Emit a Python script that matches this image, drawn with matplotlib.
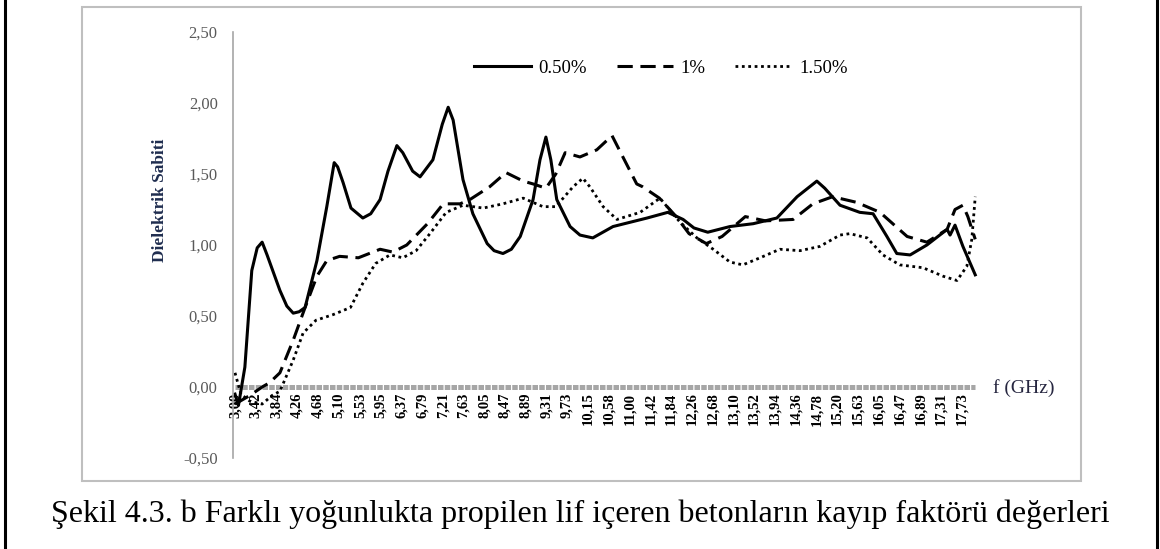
import numpy as np
import matplotlib.pyplot as plt
from matplotlib.lines import Line2D
from matplotlib.patches import Rectangle

# category labels shown on the x axis (GHz)
tick_freqs = [3.00, 3.42, 3.84, 4.26, 4.68, 5.10, 5.53, 5.95, 6.37, 6.79, 7.21, 7.63,
              8.05, 8.47, 8.89, 9.31, 9.73, 10.15, 10.58, 11.00, 11.42, 11.84, 12.26,
              12.68, 13.10, 13.52, 13.94, 14.36, 14.78, 15.20, 15.63, 16.05, 16.47,
              16.89, 17.31, 17.73]

# 0.50 %
f_050 = [3.00, 3.07, 3.20, 3.34, 3.45, 3.55, 3.65, 3.91, 4.05, 4.18, 4.30, 4.42, 4.66,
         4.86, 5.01, 5.08, 5.19, 5.35, 5.59, 5.75, 5.94, 6.10, 6.28, 6.40, 6.60, 6.75,
         7.01, 7.20, 7.32, 7.42, 7.62, 7.82, 8.11, 8.25, 8.43, 8.60, 8.78, 9.04, 9.18,
         9.30, 9.40, 9.52, 9.79, 9.99, 10.25, 10.66, 11.35, 11.77, 12.08, 12.30, 12.58,
         13.03, 13.50, 13.98, 14.39, 14.79, 14.95, 15.26, 15.66, 15.93, 16.21, 16.41,
         16.68, 17.02, 17.43, 17.49, 17.59, 17.75, 18.00]
v_050 = [-0.05, -0.13, 0.14, 0.82, 0.98, 1.02, 0.93, 0.68, 0.57, 0.52, 0.53, 0.56, 0.89,
         1.27, 1.58, 1.55, 1.44, 1.26, 1.19, 1.22, 1.32, 1.52, 1.70, 1.65, 1.52, 1.48,
         1.60, 1.85, 1.97, 1.88, 1.46, 1.22, 1.01, 0.96, 0.94, 0.97, 1.06, 1.32, 1.60,
         1.76, 1.60, 1.32, 1.13, 1.07, 1.05, 1.13, 1.19, 1.23, 1.18, 1.12, 1.09,
         1.13, 1.15, 1.19, 1.34, 1.45, 1.40, 1.28, 1.23, 1.22, 1.06, 0.94,
         0.93, 1.00, 1.11, 1.07, 1.14, 0.99, 0.79]

# 1 %
f_1 = [3.00, 3.30, 3.55, 3.70, 3.91, 4.18, 4.42, 4.66, 4.86, 5.12, 5.50, 5.94, 6.20, 6.48,
       6.90, 7.22, 7.56, 7.76, 8.16, 8.49, 8.84, 9.04, 9.30, 9.50, 9.69, 9.99, 10.33,
       10.64, 10.86, 11.14, 11.26, 11.60, 11.94, 12.20, 12.55, 12.87, 13.34, 13.75,
       14.31, 14.71, 15.11, 15.60, 16.07, 16.62, 17.02, 17.43, 17.59, 17.75, 17.85, 18.00]
v_1 = [-0.12, -0.06, 0.00, 0.03, 0.10, 0.33, 0.56, 0.78, 0.89, 0.92, 0.91, 0.97, 0.95, 1.00,
       1.15, 1.29, 1.29, 1.32, 1.41, 1.51, 1.45, 1.43, 1.40, 1.50, 1.65, 1.62, 1.67,
       1.77, 1.62, 1.43, 1.41, 1.33, 1.20, 1.08, 1.01, 1.06, 1.20, 1.17,
       1.18, 1.29, 1.34, 1.30, 1.23, 1.06, 1.02, 1.11, 1.25, 1.28, 1.20, 1.04]

# 1.50 %
f_150 = [3.00, 3.12, 3.30, 3.55, 3.75, 3.91, 4.18, 4.38, 4.64, 4.99, 5.34, 5.59, 5.85, 6.14,
         6.40, 6.67, 6.95, 7.28, 7.62, 8.03, 8.43, 8.84, 9.24, 9.50, 9.85, 10.05, 10.19,
         10.46, 10.74, 11.21, 11.61, 12.02, 12.36, 12.69, 13.03, 13.29, 13.64, 14.04,
         14.45, 14.85, 15.26, 15.46, 15.81, 16.13, 16.47, 16.94, 17.35, 17.63, 17.83,
         17.93, 18.00]
v_150 = [0.10, -0.05, -0.10, -0.12, -0.06, -0.03, 0.19, 0.38, 0.47, 0.51, 0.56, 0.73, 0.87, 0.93,
         0.91, 0.96, 1.08, 1.23, 1.28, 1.26, 1.29, 1.33, 1.27, 1.27, 1.41, 1.47, 1.41,
         1.27, 1.18, 1.23, 1.33, 1.16, 1.05, 0.97, 0.88, 0.86, 0.91, 0.97,
         0.96, 0.99, 1.07, 1.08, 1.05, 0.93, 0.86, 0.84, 0.78, 0.75, 0.85,
         1.04, 1.34]

serif = 'Liberation Serif'

fig = plt.figure(figsize=(11.6, 5.49), dpi=100)
W, H = 1160, 549
ax = fig.add_axes([233 / W, 1 - 458 / H, (980 - 233) / W, 426 / H])

ax.plot(f_050, v_050, color='black', lw=2.2, solid_joinstyle='round', label='0.50%')
ax.plot(f_1, v_1, color='black', lw=2.2, linestyle=(0, (5, 2.5)), label='1%')
ax.plot(f_150, v_150, color='black', lw=2.0, linestyle=(0, (1, 1.3)), label='1.50%')

# thick grey category axis at zero
ax.plot([3.0, 18.0], [0, 0], color='#A6A6A6', lw=3.6, linestyle=(0, (1.1, 0.25)),
        solid_capstyle='butt', dash_capstyle='butt', zorder=1)

ax.set_xlim(3 - 2 / 49.35, 3 + (980 - 235) / 49.35)
ax.set_ylim(-0.5, 2.5)
ax.set_yticks([-0.5, 0, 0.5, 1.0, 1.5, 2.0, 2.5])
ax.set_yticklabels([f'{t:.2f}'.replace('.', ',') for t in [-0.5, 0, 0.5, 1.0, 1.5, 2.0, 2.5]],
                   fontfamily=serif, fontsize=12, color='#595959')
ax.tick_params(axis='y', length=0, pad=11)

ax.spines['bottom'].set_position(('data', 0))
ax.spines['bottom'].set_visible(False)
ax.spines['top'].set_visible(False)
ax.spines['right'].set_visible(False)
ax.spines['left'].set_color('#A6A6A6')
ax.spines['left'].set_linewidth(1.2)

ax.set_xticks(tick_freqs)
ax.set_xticklabels([f'{t:.2f}'.replace('.', ',') for t in tick_freqs], rotation=90,
                   fontfamily=serif, fontsize=10.5, fontweight='bold')
ax.tick_params(axis='x', length=0, pad=4)

ax.set_ylabel('Dielektrik Sabiti', fontfamily=serif, fontsize=12.5, fontweight='bold',
              color='#1F2D4F')
ax.yaxis.set_label_coords((168 - 233) / (980 - 233), (458 - 200) / 426)

ax.text(993 / W, 1 - 388 / H, 'f (GHz)', transform=fig.transFigure, ha='left',
        va='center', fontfamily=serif, fontsize=14, color='#262640')

ax.legend(loc='center', bbox_to_anchor=(0.573, 0.915), ncol=3, frameon=False,
          prop={'family': serif, 'size': 13.5}, handlelength=3.0, handletextpad=0.4,
          columnspacing=1.6)

# grey chart frame and outer black borders
fig.patches.append(Rectangle((82 / W, 1 - 481 / H), (1081 - 82) / W, (481 - 7) / H,
                             transform=fig.transFigure, fill=False,
                             edgecolor='#BFBFBF', lw=1.5))
fig.lines.append(Line2D([5 / W, 5 / W], [0, 1], transform=fig.transFigure,
                        color='black', lw=2.2))
fig.lines.append(Line2D([1157 / W, 1157 / W], [0, 1], transform=fig.transFigure,
                        color='black', lw=2.2))

fig.text(580 / W, 1 - 514 / H,
         'Şekil 4.3. b Farklı yoğunlukta propilen lif içeren betonların kayıp faktörü değerleri',
         ha='center', va='center', fontfamily=serif, fontsize=23, color='black')

fig.savefig('out.png', dpi=100)
